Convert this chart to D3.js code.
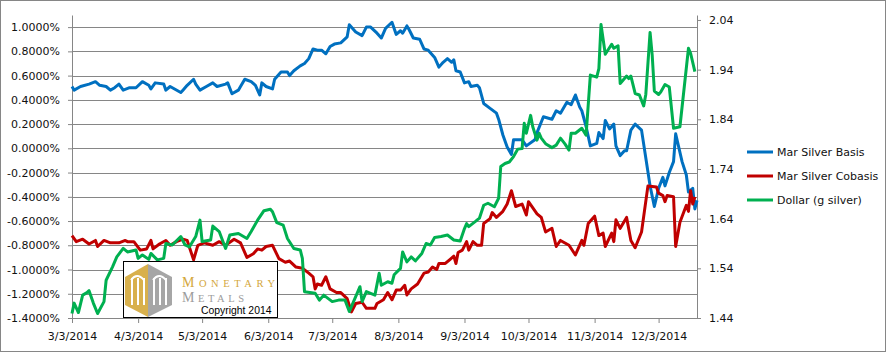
<!DOCTYPE html>
<html>
<head>
<meta charset="utf-8">
<script src="https://cdn.jsdelivr.net/npm/d3@7"></script>
<style>
  body { margin: 0; background: #fff; }
  text { font-family: "DejaVu Sans", sans-serif; }
</style>
</head>
<body>
<svg id="chart"></svg>
<script>
// month ticks on the x axis
const monthTicks = ["3/3", "4/3", "5/3", "6/3", "7/3", "8/3", "9/3", "10/3", "11/3", "12/3"];
const leftTicks = [-1.4, -1.2, -1.0, -0.8, -0.6, -0.4, -0.2, 0.0, 0.2, 0.4, 0.6, 0.8, 1.0];
const rightTicks = [1.44, 1.54, 1.64, 1.74, 1.84, 1.94, 2.04];
const seriesNames = ["Mar Silver Basis", "Mar Silver Cobasis", "Dollar (g silver)"];

// Mar Silver Basis, %
const basis = [
  ["3/3", .51], ["3/4", .48], ["3/7", .51], ["3/11", .53], ["3/14", .55], ["3/16", .52], ["3/19", .51],
  ["3/21", .48], ["3/23", .50], ["3/25", .53], ["3/27", .48], ["3/30", .50], ["4/2", .50], ["4/5", .55],
  ["4/8", .52], ["4/9", .49], ["4/11", .54], ["4/15", .53], ["4/16", .48], ["4/18", .51], ["4/23", .46],
  ["4/24", .48], ["4/26", .52], ["4/29", .57], ["4/30", .53], ["5/2", .48], ["5/5", .51], ["5/8", .54],
  ["5/10", .51], ["5/14", .53], ["5/15", .54], ["5/17", .45], ["5/20", .48], ["5/21", .51], ["5/23", .57],
  ["5/26", .55], ["5/28", .52], ["5/30", .44], ["5/31", .54], ["6/2", .51], ["6/5", .49], ["6/6", .57],
  ["6/9", .63], ["6/12", .63], ["6/13", .60], ["6/15", .64], ["6/18", .68], ["6/20", .70], ["6/22", .74],
  ["6/24", .82], ["6/26", .81], ["6/28", .81], ["6/30", .78], ["7/2", .84], ["7/4", .86], ["7/7", .87],
  ["7/10", .92], ["7/11", 1.02], ["7/14", .96], ["7/17", .93], ["7/19", 1.00], ["7/21", 1.00], ["7/24", .95],
  ["7/26", .91], ["7/28", .99], ["7/31", 1.04], ["8/2", .94], ["8/4", .97], ["8/5", .95], ["8/7", 1.01],
  ["8/8", .98], ["8/10", .91], ["8/13", .90], ["8/15", .82], ["8/17", .81], ["8/20", .75], ["8/22", .67],
  ["8/24", .71], ["8/26", .74], ["8/28", .71], ["8/29", .73], ["8/30", .64], ["9/1", .63], ["9/3", .54],
  ["9/5", .55], ["9/6", .51], ["9/9", .52], ["9/10", .50], ["9/12", .37], ["9/15", .33], ["9/18", .29],
  ["9/19", .24], ["9/21", .11], ["9/23", .01], ["9/25", -.05], ["9/26", .07], ["9/30", .07], ["10/2", .02],
  ["10/6", .07], ["10/7", .13], ["10/10", .26], ["10/14", .24], ["10/16", .31], ["10/18", .29], ["10/21", .38],
  ["10/23", .36], ["10/25", .44], ["10/27", .34], ["10/28", .31], ["10/30", .18], ["11/1", .02], ["11/4", .04],
  ["11/5", .13], ["11/7", .08], ["11/8", .23], ["11/10", .16], ["11/12", .20], ["11/13", .02], ["11/15", -.06],
  ["11/17", -.02], ["11/18", -.02], ["11/20", .15], ["11/22", .20], ["11/25", .15], ["11/27", -.08],
  ["11/29", -.31], ["12/1", -.48], ["12/3", -.33], ["12/5", -.24], ["12/6", -.31], ["12/8", -.20],
  ["12/10", -.11], ["12/11", .12], ["12/14", -.11], ["12/16", -.22], ["12/17", -.36], ["12/19", -.33],
  ["12/20", -.50], ["12/21", -.43]
];

// Mar Silver Cobasis, %
const cobasis = [
  ["3/3", -.72], ["3/5", -.77], ["3/8", -.75], ["3/11", -.79], ["3/14", -.76], ["3/15", -.81], ["3/18", -.76],
  ["3/21", -.78], ["3/25", -.78], ["3/28", -.76], ["3/29", -.77], ["4/1", -.77], ["4/4", -.84], ["4/7", -.83],
  ["4/9", -.76], ["4/10", -.83], ["4/13", -.79], ["4/16", -.76], ["4/18", -.80], ["4/21", -.77], ["4/24", -.75],
  ["4/26", -.76], ["4/29", -.92], ["5/1", -.80], ["5/4", -.78], ["5/8", -.80], ["5/11", -.77], ["5/14", -.80],
  ["5/18", -.75], ["5/21", -.78], ["5/24", -.90], ["5/27", -.87], ["5/29", -.83], ["5/31", -.84], ["6/2", -.81],
  ["6/5", -.80], ["6/8", -.91], ["6/11", -.94], ["6/13", -.93], ["6/16", -.98], ["6/19", -.99], ["6/22", -1.03],
  ["6/24", -1.06], ["6/25", -1.16], ["6/26", -1.12], ["6/28", -1.13], ["6/30", -1.06], ["7/2", -1.16],
  ["7/5", -1.19], ["7/7", -1.19], ["7/10", -1.24], ["7/12", -1.35], ["7/14", -1.28], ["7/17", -1.27],
  ["7/19", -1.32], ["7/23", -1.32], ["7/24", -1.28], ["7/27", -1.25], ["7/29", -1.19], ["7/31", -1.25],
  ["8/2", -1.17], ["8/4", -1.17], ["8/6", -1.13], ["8/7", -1.21], ["8/9", -1.16], ["8/12", -1.12],
  ["8/15", -1.03], ["8/17", -1.02], ["8/19", -.98], ["8/21", -1.00], ["8/22", -.95], ["8/25", -.95],
  ["8/27", -.92], ["8/29", -.89], ["8/30", -.95], ["8/31", -.86], ["9/2", -.84], ["9/4", -.77], ["9/5", -.84],
  ["9/7", -.77], ["9/9", -.80], ["9/11", -.80], ["9/12", -.62], ["9/15", -.58], ["9/16", -.53], ["9/18", -.57],
  ["9/21", -.52], ["9/23", -.46], ["9/25", -.35], ["9/27", -.48], ["9/30", -.46], ["10/2", -.55], ["10/3", -.44],
  ["10/7", -.54], ["10/9", -.57], ["10/11", -.69], ["10/14", -.66], ["10/16", -.81], ["10/18", -.76],
  ["10/22", -.80], ["10/25", -.88], ["10/28", -.76], ["10/29", -.80], ["10/31", -.62], ["11/3", -.56],
  ["11/5", -.72], ["11/7", -.70], ["11/8", -.81], ["11/11", -.70], ["11/12", -.77], ["11/13", -.59],
  ["11/15", -.66], ["11/18", -.57], ["11/20", -.76], ["11/22", -.82], ["11/25", -.69], ["11/28", -.31],
  ["12/2", -.32], ["12/3", -.37], ["12/5", -.39], ["12/6", -.44], ["12/7", -.39], ["12/10", -.40],
  ["12/11", -.81], ["12/13", -.61], ["12/16", -.47], ["12/17", -.52], ["12/18", -.35], ["12/19", -.46],
  ["12/20", -.40]
];

// Dollar priced in grams of silver (right axis)
const dollar = [
  ["3/3", 1.449], ["3/4", 1.470], ["3/6", 1.451], ["3/8", 1.486], ["3/10", 1.491], ["3/11", 1.495],
  ["3/13", 1.470], ["3/15", 1.449], ["3/18", 1.473], ["3/19", 1.516], ["3/22", 1.543], ["3/24", 1.563],
  ["3/27", 1.580], ["3/29", 1.573], ["4/2", 1.577], ["4/3", 1.560], ["4/5", 1.567], ["4/8", 1.558],
  ["4/9", 1.570], ["4/12", 1.557], ["4/15", 1.560], ["4/16", 1.590], ["4/19", 1.587], ["4/23", 1.604],
  ["4/25", 1.587], ["4/27", 1.583], ["4/30", 1.604], ["5/2", 1.637], ["5/3", 1.594], ["5/7", 1.597],
  ["5/8", 1.625], ["5/11", 1.614], ["5/14", 1.580], ["5/16", 1.607], ["5/20", 1.610], ["5/24", 1.600],
  ["5/26", 1.614], ["5/29", 1.637], ["6/1", 1.656], ["6/4", 1.659], ["6/5", 1.654], ["6/7", 1.632],
  ["6/10", 1.627], ["6/12", 1.600], ["6/15", 1.580], ["6/18", 1.577], ["6/19", 1.560], ["6/20", 1.493],
  ["6/25", 1.490], ["6/27", 1.476], ["6/29", 1.486], ["7/3", 1.473], ["7/6", 1.476], ["7/9", 1.476],
  ["7/11", 1.453], ["7/13", 1.473], ["7/16", 1.503], ["7/17", 1.473], ["7/19", 1.493], ["7/23", 1.486],
  ["7/25", 1.530], ["7/26", 1.506], ["7/29", 1.513], ["7/31", 1.510], ["8/1", 1.527], ["8/4", 1.540],
  ["8/5", 1.573], ["8/7", 1.553], ["8/9", 1.563], ["8/11", 1.555], ["8/14", 1.570], ["8/16", 1.590],
  ["8/18", 1.587], ["8/20", 1.602], ["8/23", 1.604], ["8/26", 1.607], ["8/29", 1.597], ["9/1", 1.595],
  ["9/3", 1.620], ["9/4", 1.630], ["9/5", 1.624], ["9/8", 1.634], ["9/10", 1.641], ["9/12", 1.667],
  ["9/14", 1.671], ["9/17", 1.664], ["9/19", 1.681], ["9/20", 1.745], ["9/22", 1.751], ["9/24", 1.754],
  ["9/26", 1.765], ["9/28", 1.780], ["9/30", 1.781], ["10/1", 1.832], ["10/2", 1.812], ["10/4", 1.848],
  ["10/5", 1.825], ["10/7", 1.798], ["10/8", 1.812], ["10/9", 1.802], ["10/11", 1.791], ["10/14", 1.783],
  ["10/16", 1.788], ["10/18", 1.802], ["10/20", 1.791], ["10/22", 1.778], ["10/23", 1.812], ["10/25", 1.812],
  ["10/28", 1.822], ["10/30", 1.808], ["11/1", 1.929], ["11/4", 1.925], ["11/5", 1.942], ["11/6", 2.031],
  ["11/8", 1.971], ["11/11", 1.991], ["11/12", 1.983], ["11/14", 1.988], ["11/15", 1.912], ["11/18", 1.927],
  ["11/19", 1.922], ["11/20", 1.927], ["11/22", 1.892], ["11/24", 1.889], ["11/26", 1.867], ["11/27", 1.890],
  ["11/29", 2.015], ["11/30", 1.969], ["12/1", 1.897], ["12/3", 1.890], ["12/4", 1.895], ["12/6", 1.910],
  ["12/8", 1.905], ["12/10", 1.822], ["12/13", 1.825], ["12/17", 1.983], ["12/18", 1.973], ["12/20", 1.936]
];

const W = 888, H = 353;
const margin = { top: 15, right: 191, bottom: 35, left: 72 };
const width = W - margin.left - margin.right;
const height = H - margin.top - margin.bottom;
const colors = ["#0070C0", "#C00000", "#00B050"];
const gridColor = "#868686";

const parseDate = d3.timeParse("%m/%d/%Y");
const toDate = (s) => parseDate(s + "/2014");

function init() {
  const svg = d3.select("#chart").attr("width", W).attr("height", H);

  // chart border
  svg.append("rect")
    .attr("x", 0.5).attr("y", 0.5)
    .attr("width", W - 3).attr("height", H - 2)
    .attr("fill", "#fff").attr("stroke", gridColor);

  const g = svg.append("g")
    .attr("transform", `translate(${margin.left}, ${margin.top})`);

  const x = d3.scaleTime()
    .domain([toDate("3/3"), toDate("12/21")])
    .range([0, width]);
  const yL = d3.scaleLinear().domain([-1.4, 1.1]).range([height, 0]);
  const yR = d3.scaleLinear().domain([1.44, 2.05]).range([height, 0]);

  // horizontal gridlines
  g.append("g")
    .selectAll("line")
    .data(leftTicks)
    .enter()
    .append("line")
    .attr("x1", 0).attr("x2", width)
    .attr("y1", (d) => Math.round(yL(d)) + 0.5)
    .attr("y2", (d) => Math.round(yL(d)) + 0.5)
    .attr("stroke", gridColor);

  const gLeft = g.append("g")
    .call(d3.axisLeft(yL).tickValues(leftTicks).tickSize(4).tickSizeOuter(0).tickPadding(8)
      .tickFormat((d) => d.toFixed(4) + "%"));
  const gRight = g.append("g")
    .attr("transform", `translate(${width}, 0)`)
    .call(d3.axisRight(yR).tickValues(rightTicks).tickSize(4).tickSizeOuter(0).tickPadding(8)
      .tickFormat(d3.format(".2f")));
  const gBottom = g.append("g")
    .attr("transform", `translate(0, ${height})`)
    .call(d3.axisBottom(x).tickValues(monthTicks.map(toDate)).tickSize(5).tickSizeOuter(0).tickPadding(9)
      .tickFormat(d3.timeFormat("%-m/%-d/%Y")));

  [gLeft, gRight, gBottom].forEach((ax) => {
    ax.selectAll("path, line").attr("stroke", gridColor);
    ax.selectAll("text").attr("fill", "#111").style("font-size", "11px");
  });

  // series
  const line = (yScale) => d3.line()
    .x((d) => x(toDate(d[0])))
    .y((d) => yScale(d[1]));

  [[basis, yL], [cobasis, yL], [dollar, yR]].forEach(([data, scale], i) => {
    g.append("path")
      .datum(data)
      .attr("fill", "none")
      .attr("stroke", colors[i])
      .attr("stroke-width", 3)
      .attr("stroke-linejoin", "round")
      .attr("d", line(scale));
  });

  // legend
  const legend = svg.append("g").attr("transform", "translate(747, 152)");
  seriesNames.forEach((name, i) => {
    const row = legend.append("g").attr("transform", `translate(0, ${i * 24})`);
    row.append("line")
      .attr("x1", 0).attr("x2", 26)
      .attr("stroke", colors[i]).attr("stroke-width", 3);
    row.append("text")
      .attr("x", 30).attr("dy", "0.35em")
      .style("font-size", "11px").attr("fill", "#111")
      .text(name);
  });

  drawLogo(svg);
}

function drawLogo(svg) {
  const logo = svg.append("g").attr("transform", "translate(123, 261)");
  logo.append("rect")
    .attr("x", 0.5).attr("y", 0.5).attr("width", 154).attr("height", 56)
    .attr("fill", "#fff").attr("stroke", "#000");

  // hexagon mark, gold half and grey half
  const gold = "#D8B04C", grey = "#A6A6A6";
  logo.append("path")
    .attr("d", "M25,3 L25,56 L2,44 L2,16 Z").attr("fill", gold);
  logo.append("path")
    .attr("d", "M25,3 L25,56 L49,44 L49,16 Z").attr("fill", grey);
  // white slots forming the double M
  const slots = [8, 14, 20, 30, 36, 42];
  logo.append("g")
    .selectAll("rect")
    .data(slots)
    .enter()
    .append("rect")
    .attr("x", (d) => d).attr("y", 17)
    .attr("width", 2).attr("height", 27)
    .attr("fill", "#fff");
  logo.append("path")
    .attr("d", "M8,19 Q14,11 21,19 M30,19 Q36,11 43,19")
    .attr("fill", "none").attr("stroke", "#fff").attr("stroke-width", 2);

  logo.append("text")
    .attr("x", 59).attr("y", 26)
    .attr("fill", "#D4A73C")
    .attr("textLength", 93).attr("lengthAdjust", "spacing")
    .style("font-family", "'Liberation Serif', serif")
    .call((t) => {
      t.append("tspan").style("font-size", "14px").text("M");
      t.append("tspan").style("font-size", "10.5px").text("ONETARY");
    });
  logo.append("text")
    .attr("x", 59).attr("y", 41)
    .attr("fill", "#9C9C9C")
    .attr("textLength", 62).attr("lengthAdjust", "spacing")
    .style("font-family", "'Liberation Serif', serif")
    .call((t) => {
      t.append("tspan").style("font-size", "14px").text("M");
      t.append("tspan").style("font-size", "10.5px").text("ETALS");
    });
  logo.append("text")
    .attr("x", 78).attr("y", 53)
    .attr("fill", "#000")
    .style("font-family", "'Liberation Sans', Arial, sans-serif")
    .style("font-size", "10.4px")
    .text("Copyright 2014");
}

init();
</script>
</body>
</html>
